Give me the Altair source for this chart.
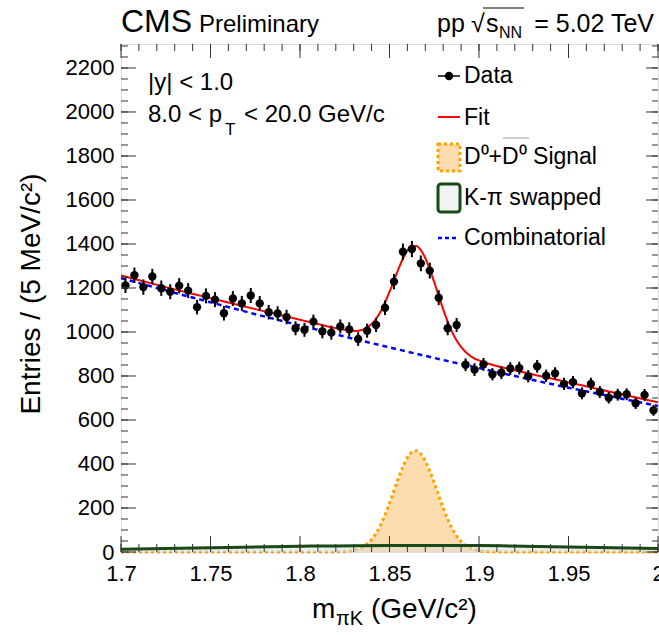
import altair as alt
import pandas as pd

FONT = "Liberation Sans"

# ---------------- data ----------------
bin_lo, bin_w, n_bins = 1.70, 0.005, 60
bin_center = [round(bin_lo + bin_w * (i + 0.5), 4) for i in range(n_bins)]
counts = [1212, 1258, 1204, 1252, 1199, 1183, 1210, 1188, 1113, 1164,
          1147, 1085, 1152, 1130, 1166, 1130, 1090, 1084, 1068, 1017,
          1010, 1047, 1003, 997, 1025, 1012, 968, 1006, 1032, 1110,
          1229, 1365, 1377, 1312, 1279, 1156, 1017, 1032, 851, 829,
          853, 808, 815, 834, 836, 799, 844, 801, 812, 764,
          772, 721, 764, 727, 701, 715, 717, 676, 714, 644]
errors = [35, 35, 35, 35, 35, 34, 35, 34, 33, 34,
          34, 33, 34, 34, 34, 34, 33, 33, 33, 32,
          32, 32, 32, 32, 32, 32, 31, 32, 32, 33,
          35, 37, 37, 36, 36, 34, 32, 32, 29, 29,
          29, 28, 29, 29, 29, 28, 29, 28, 28, 28,
          28, 27, 28, 27, 26, 27, 27, 26, 27, 25]

fit_mass = [1.700, 1.725, 1.750, 1.775, 1.800, 1.8125, 1.825, 1.8275, 1.830, 1.8325,
            1.835, 1.8375, 1.840, 1.8425, 1.845, 1.8475, 1.850, 1.8525, 1.855, 1.8575,
            1.860, 1.8625, 1.865, 1.8675, 1.870, 1.8725, 1.875, 1.8775, 1.880, 1.8825,
            1.885, 1.8875, 1.890, 1.8925, 1.895, 1.8975, 1.900, 1.905, 1.925, 1.950,
            1.975, 2.000]
fit_val = [1257, 1204, 1154, 1104, 1056, 1031, 1010, 1007, 1005, 1006,
           1010, 1021, 1036, 1060, 1092, 1134, 1182, 1234, 1286, 1334,
           1370, 1390, 1391, 1372, 1336, 1285, 1226, 1164, 1103, 1047,
           1000, 961, 932, 909, 892, 879, 871, 857, 817, 771,
           725, 680]

bkg_mass = [1.700, 1.725, 1.750, 1.775, 1.800, 1.825, 1.850, 1.875, 1.900, 1.925, 1.950, 1.975, 2.000]
bkg_val = [1245, 1189, 1135, 1081, 1030, 979, 930, 882, 836, 791, 747, 705, 664]

sig_mass = [1.700, 1.780, 1.815, 1.820, 1.825, 1.830, 1.835, 1.8375, 1.840, 1.8425,
            1.845, 1.8475, 1.850, 1.8525, 1.855, 1.8575, 1.860, 1.8625, 1.865, 1.8675,
            1.870, 1.8725, 1.875, 1.8775, 1.880, 1.8825, 1.885, 1.8875, 1.890, 1.8925,
            1.895, 1.900, 1.905, 1.910, 1.950, 2.000]
sig_val = [0, 0, 0, 0.5, 2, 7, 22, 37, 57, 86,
           123, 169, 222, 279, 336, 388, 429, 454, 460, 446,
           414, 368, 314, 256, 200, 149, 107, 73, 48, 30,
           18, 6, 2, 0.5, 0, 0]

swp_mass = [1.70, 1.75, 1.80, 1.85, 1.90, 1.95, 2.00]
swp_val = [12, 19, 26, 30, 29, 23, 16]

x_major = [1.70, 1.75, 1.80, 1.85, 1.90, 1.95, 2.00]
x_minor = [round(1.70 + 0.01 * i, 2) for i in range(31)]
y_major = [0, 200, 400, 600, 800, 1000, 1200, 1400, 1600, 1800, 2000, 2200]
y_minor = [50 * i for i in range(47)]

# ---------------- frames ----------------
pts = pd.DataFrame({"m": bin_center, "n": counts,
                    "lo": [c - e for c, e in zip(counts, errors)],
                    "hi": [c + e for c, e in zip(counts, errors)]})
fit = pd.DataFrame({"m": fit_mass, "v": fit_val})
bkg = pd.DataFrame({"m": bkg_mass, "v": bkg_val})
sig = pd.DataFrame({"m": sig_mass, "v": sig_val})
swp = pd.DataFrame({"m": swp_mass, "v": swp_val})
one = pd.DataFrame({"k": [0]})

W, H = 537, 508
xscale = alt.Scale(domain=[1.7, 2.0], nice=False, zero=False)
yscale = alt.Scale(domain=[0, 2309], nice=False)
xaxis = alt.Axis(values=x_major, format="~g", title=None, ticks=False, domain=False, grid=False,
                 labelFontSize=22, labelFont=FONT, labelColor="black", labelPadding=11,
                 labelFlush=False, labelOverlap=False)
yaxis = alt.Axis(values=y_major, format="d", title=None, ticks=False, domain=False, grid=False,
                 labelFontSize=22, labelFont=FONT, labelColor="black", labelPadding=7,
                 labelOverlap=False)


def X(f):
    return alt.X(f, type="quantitative", scale=xscale, axis=xaxis)


def Y(f):
    return alt.Y(f, type="quantitative", scale=yscale, axis=yaxis)


ORANGE = "#ffa200"
ORANGE_FILL = "#fddcaf"
GREEN = "#174a17"
TICK = "#333333"

sig_area = alt.Chart(sig).mark_area(interpolate="monotone", color=ORANGE_FILL, opacity=1).encode(x=X("m"), y=Y("v"))
sig_line = alt.Chart(sig).mark_line(interpolate="monotone", color=ORANGE, strokeWidth=3,
                                    strokeDash=[3, 3]).encode(x=X("m"), y=Y("v"))
swp_area = alt.Chart(swp).mark_area(interpolate="monotone", color="#d8ddd8", opacity=0.5).encode(x=X("m"), y=Y("v"))
swp_line = alt.Chart(swp).mark_line(interpolate="monotone", color=GREEN, strokeWidth=3).encode(x=X("m"), y=Y("v"))
bkg_line = alt.Chart(bkg).mark_line(interpolate="monotone", color="#0000ff", strokeWidth=2.5,
                                    strokeDash=[5, 4]).encode(x=X("m"), y=Y("v"))
fit_line = alt.Chart(fit).mark_line(interpolate="monotone", color="#ff0000", strokeWidth=2).encode(x=X("m"), y=Y("v"))
err = alt.Chart(pts).mark_rule(color="black", strokeWidth=2).encode(x=X("m"), y=Y("lo"), y2="hi")
dots = alt.Chart(pts).mark_circle(color="black", size=70, opacity=1).encode(x=X("m"), y=Y("n"))


# ---------------- ticks (inward, ROOT style) ----------------
def xticks(vals, y0, y1):
    return alt.Chart(pd.DataFrame({"v": vals})).mark_rule(color=TICK, strokeWidth=1).encode(
        x=X("v"), y=alt.value(y0), y2=alt.value(y1))


def yticks(vals, x0, x1):
    return alt.Chart(pd.DataFrame({"v": vals})).mark_rule(color=TICK, strokeWidth=1).encode(
        y=Y("v"), x=alt.value(x0), x2=alt.value(x1))


ticks = [xticks(x_major, H, H - 16), xticks(x_minor, H, H - 8),
         xticks(x_major, 0, 14), xticks(x_minor, 0, 7),
         yticks(y_major, 0, 15), yticks(y_minor, 0, 7),
         yticks(y_major, W, W - 12), yticks(y_minor, W, W - 6)]


# ---------------- texts ----------------
def txt(s, x, y, size, align="left", baseline="alphabetic", angle=None):
    kw = dict(text=s, fontSize=size, align=align, baseline=baseline, font=FONT, color="black")
    if angle is not None:
        kw["angle"] = angle
    return alt.Chart(one).mark_text(**kw).encode(x=alt.value(x), y=alt.value(y))


def hline(x0, x1, y, color, width=2, dash=None):
    kw = dict(color=color, strokeWidth=width)
    if dash:
        kw["strokeDash"] = dash
    return alt.Chart(one).mark_rule(**kw).encode(x=alt.value(x0), x2=alt.value(x1), y=alt.value(y))


texts = [
    txt("CMS", 0, -12.5, 32),
    txt("Preliminary", 78, -12.5, 24),
    txt("pp", 316, -12.5, 25),
    txt("√", 350, -12.5, 25),
    txt("s", 365, -12.5, 25),
    txt("NN", 378, -6.5, 16),
    hline(362, 403, -36, "black", 1.2),
    txt("= 5.02 TeV", 533, -12.5, 25, align="right"),
    txt("|y| < 1.0", 27, 46, 24),
    txt("8.0 < p", 27, 78, 24),
    txt("T", 104, 91, 17),
    txt("< 20.0 GeV/c", 123, 78, 24),
    # axis titles
    txt("Entries / (5 MeV/c²)", -89, 250, 28, align="center", baseline="middle", angle=270),
    txt("m", 191, 574, 28),
    txt("πK", 215, 581, 20),
    txt("(GeV/c²)", 250, 574, 28),
]

# ---------------- legend ----------------
legend = [
    hline(317, 339, 32, "black", 1.5),
    alt.Chart(one).mark_circle(color="black", size=70, opacity=1).encode(x=alt.value(328), y=alt.value(32)),
    txt("Data", 343, 32, 23, baseline="middle"),
    hline(317, 339, 73, "#ff0000", 2),
    txt("Fit", 343, 74, 23, baseline="middle"),
    alt.Chart(one).mark_rect(fill=ORANGE_FILL, stroke=ORANGE, strokeWidth=3, strokeDash=[3, 3]).encode(
        x=alt.value(317), x2=alt.value(339), y=alt.value(100), y2=alt.value(127)),
    txt("D⁰+D⁰ Signal", 343, 113, 23, baseline="middle"),
    hline(382, 408, 94, "#999999", 1),
    alt.Chart(one).mark_rect(fill="#f2f2f2", stroke=GREEN, strokeWidth=3, cornerRadius=3).encode(
        x=alt.value(317), x2=alt.value(339), y=alt.value(140), y2=alt.value(168)),
    txt("K-π swapped", 343, 154, 23, baseline="middle"),
    hline(317, 338, 194, "#0000ff", 2.5, [4, 3]),
    txt("Combinatorial", 343, 194, 23, baseline="middle"),
]

chart = alt.layer(
    sig_area, sig_line, swp_area, swp_line, bkg_line, fit_line, err, dots,
    *ticks, *texts, *legend
).properties(
    width=W, height=H,
    autosize=alt.AutoSizeParams(type="none"),
    padding={"left": 121, "top": 44, "right": 1, "bottom": 83},
).configure_view(stroke="#333333", strokeWidth=1).configure(background="white")

chart.save("out.html", embed_options={"renderer": "svg", "actions": False})
